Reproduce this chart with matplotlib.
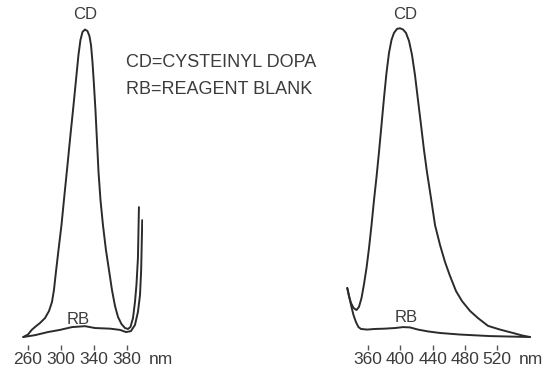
import numpy as np
import matplotlib
matplotlib.use("Agg")
import matplotlib.pyplot as plt

plt.rcParams['font.family'] = ['Liberation Sans', 'DejaVu Sans']

# left panel (relative absorbance vs wavelength, nm)
left_cd_nm = [254.3, 260.0, 264.5, 269.7, 274.5, 280.6, 285.5, 289.1, 291.5, 293.9,
              297.0, 300.6, 304.2, 307.9, 311.5, 315.2, 318.8, 321.2, 323.6, 326.1,
              329.1, 332.1, 334.5, 336.4, 338.2, 340.0, 341.8, 343.6, 345.5, 347.9,
              350.9, 354.5, 358.2, 361.8, 365.5, 369.1, 373.3, 377.6, 381.2, 384.2,
              387.3, 389.7, 391.5, 393.3, 394.5]
left_cd_a = [0.000, 0.008, 0.023, 0.035, 0.045, 0.061, 0.084, 0.113, 0.152, 0.210,
             0.281, 0.361, 0.458, 0.555, 0.652, 0.748, 0.845, 0.910, 0.958, 0.984,
             0.992, 0.987, 0.971, 0.942, 0.887, 0.813, 0.732, 0.635, 0.532, 0.442,
             0.361, 0.281, 0.216, 0.152, 0.100, 0.065, 0.042, 0.029, 0.026, 0.032,
             0.061, 0.113, 0.168, 0.255, 0.419]

left_rb_nm = [254.3, 268.5, 284.2, 298.8, 313.3, 329.1, 341.2, 359.4, 371.5, 378.8,
              384.8, 389.7, 393.3, 395.8, 397.2, 398.5]
left_rb_a = [0.000, 0.006, 0.016, 0.023, 0.032, 0.035, 0.029, 0.027, 0.023, 0.016,
             0.019, 0.039, 0.081, 0.135, 0.216, 0.377]

# right panel
right_cd_nm = [333.9, 336.0, 338.5, 341.6, 345.3, 348.4, 351.6, 354.7, 357.8, 360.9,
               364.0, 367.1, 370.2, 373.3, 376.4, 379.5, 382.6, 385.7, 388.8, 391.9,
               395.7, 399.4, 403.1, 406.8, 410.6, 414.3, 418.0, 421.7, 425.5, 429.2,
               432.9, 437.9, 442.9, 449.1, 455.3, 461.5, 469.0, 476.4, 486.4, 496.3,
               508.7, 523.6, 539.8, 551.0, 560.9]
right_cd_a = [0.158, 0.132, 0.110, 0.094, 0.087, 0.097, 0.126, 0.171, 0.223, 0.287,
              0.361, 0.442, 0.516, 0.597, 0.684, 0.771, 0.852, 0.916, 0.958, 0.981,
              0.994, 0.996, 0.992, 0.981, 0.955, 0.910, 0.845, 0.765, 0.684, 0.603,
              0.532, 0.448, 0.361, 0.297, 0.242, 0.197, 0.148, 0.116, 0.084, 0.061,
              0.036, 0.024, 0.013, 0.005, 0.000]

right_rb_nm = [333.9, 336.6, 339.1, 341.6, 344.7, 347.8, 350.9, 358.4, 368.3, 380.7,
               393.2, 403.1, 411.8, 421.7, 434.2, 449.1, 473.9, 511.2, 560.9]
right_rb_a = [0.158, 0.126, 0.097, 0.071, 0.048, 0.032, 0.026, 0.024, 0.026, 0.027,
              0.029, 0.032, 0.031, 0.024, 0.018, 0.013, 0.008, 0.003, 0.000]

left_ticks = [260, 300, 340, 380]
right_ticks = [360, 400, 440, 480, 520]

line_color = '#2b2b2b'
text_color = '#3c3c3c'

fig = plt.figure(figsize=(5.48, 3.74), dpi=100)
ax_l = fig.add_axes([0.0360, 0.0775, 0.2258, 0.8917])
ax_r = fig.add_axes([0.6280, 0.0775, 0.3408, 0.8917])


def set_panel(ax, ticks, xlim):
    ax.set_xlim(*xlim)
    ax.set_ylim(-0.0258, 1.05)
    for s in ax.spines.values():
        s.set_visible(False)
    ax.set_yticks([])
    ax.set_xticks(ticks)
    ax.set_xticklabels([str(t) for t in ticks])
    ax.tick_params(axis='x', direction='out', length=3.6, width=1.0,
                   color='#555555', labelsize=12.5, labelcolor=text_color, pad=1.5)
    ax.patch.set_alpha(0)


def paint_curve(ax, x_es, y_es):
    ax.plot(np.array(x_es), np.array(y_es), color=line_color, lw=1.4,
            solid_joinstyle='round', solid_capstyle='round')


paint_curve(ax_l, left_cd_nm, left_cd_a)
paint_curve(ax_l, left_rb_nm, left_rb_a)
paint_curve(ax_r, right_cd_nm, right_cd_a)
paint_curve(ax_r, right_rb_nm, right_rb_a)

set_panel(ax_l, left_ticks, (250, 400))
set_panel(ax_r, right_ticks, (330, 562))

ax_l.text(329.1, 1.039, 'CD', ha='center', va='center', fontsize=12, color=text_color)
ax_l.text(320.6, 0.058, 'RB', ha='center', va='center', fontsize=12, color=text_color)
ax_r.text(405.6, 1.039, 'CD', ha='center', va='center', fontsize=12, color=text_color)
ax_r.text(406.5, 0.062, 'RB', ha='center', va='center', fontsize=12, color=text_color)

ax_l.text(379.4, 0.887, 'CD=CYSTEINYL DOPA', ha='left', va='center', fontsize=13,
          color=text_color, clip_on=False)
ax_l.text(379.4, 0.797, 'RB=REAGENT BLANK', ha='left', va='center', fontsize=13,
          color=text_color, clip_on=False)

fig.text(149 / 548, (374 - 359) / 374, 'nm', ha='left', va='center', fontsize=12.5,
         color=text_color)
fig.text(519 / 548, (374 - 359) / 374, 'nm', ha='left', va='center', fontsize=12.5,
         color=text_color)

fig.savefig('out.png', dpi=100)
